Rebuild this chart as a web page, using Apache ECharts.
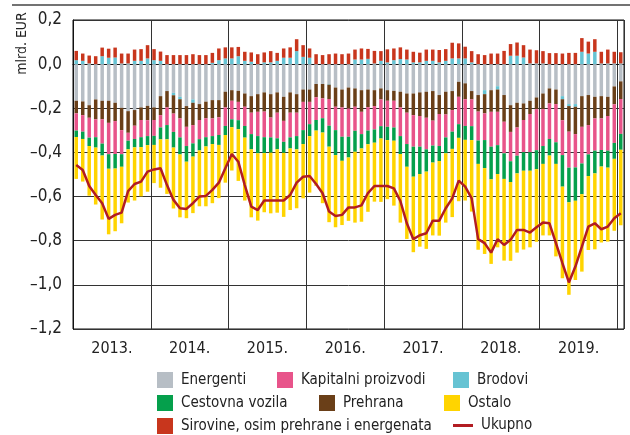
<!DOCTYPE html>
<html><head><meta charset="utf-8">
<script src="https://cdn.jsdelivr.net/npm/echarts@6/dist/echarts.min.js"></script>
<style>html,body{margin:0;padding:0;background:#fff}#c{width:630px;height:435px}</style>
</head><body><div id="c"></div>
<script>
const FONT = '"Liberation Sans Narrow","Arial Narrow","DejaVu Sans Condensed",sans-serif';

const years = ['2013','2014','2015','2016','2017','2018','2019','2020'];
const monthNums = ['01','02','03','04','05','06','07','08','09','10','11','12'];
const categories = [];
years.forEach(function(y){ monthNums.forEach(function(m){ categories.push(y + '-' + m); }); });
categories.length = 85; // Jan 2013 .. Jan 2020

const sirovine = [0.042,0.033,0.036,0.036,0.039,0.041,0.045,0.045,0.045,0.051,0.053,0.060,
0.050,0.042,0.041,0.041,0.041,0.041,0.045,0.041,0.041,0.045,0.053,0.050,
0.050,0.042,0.041,0.042,0.045,0.045,0.051,0.036,0.042,0.047,0.054,0.053,
0.042,0.045,0.041,0.045,0.048,0.045,0.048,0.045,0.050,0.045,0.057,0.044,
0.059,0.053,0.053,0.045,0.048,0.044,0.051,0.051,0.056,0.053,0.071,0.068,
0.053,0.051,0.045,0.041,0.048,0.048,0.060,0.053,0.060,0.056,0.063,0.060,
0.056,0.050,0.050,0.048,0.051,0.051,0.062,0.054,0.057,0.053,0.063,0.053,
0.051];
const brodovi = [0.018,0.015,0.003,0,0.036,0.029,0.030,0.003,0.003,0.015,0.015,0.026,
0.018,0.015,0,-0.011,-0.011,0,-0.015,0,0,0.006,0.018,0.026,
0.026,0.036,0.015,0.011,0,0.008,0.008,0.015,0.029,0.029,0.059,0.033,
0.029,0,0,-0.003,0,0,0,0.021,0.021,0.024,0.003,0.015,
0.008,0.018,0.023,0.021,0.008,0.008,0.015,0.015,0.008,0.015,0.026,0.026,
0.026,0.008,0,-0.018,0,-0.015,0,0.038,0.038,0.030,0.003,0.003,
0.003,0,0,-0.014,-0.009,-0.012,0.056,0.048,0.056,0.003,0.003,0.003,
0.003];
const energenti = [-0.166,-0.169,-0.186,-0.160,-0.166,-0.166,-0.175,-0.198,-0.213,-0.208,-0.196,-0.189,
-0.196,-0.145,-0.122,-0.130,-0.148,-0.190,-0.160,-0.181,-0.170,-0.163,-0.163,-0.125,
-0.118,-0.121,-0.133,-0.145,-0.136,-0.128,-0.136,-0.128,-0.148,-0.128,-0.136,-0.115,
-0.115,-0.090,-0.090,-0.090,-0.106,-0.115,-0.106,-0.110,-0.118,-0.115,-0.118,-0.110,
-0.118,-0.121,-0.125,-0.133,-0.133,-0.128,-0.125,-0.122,-0.140,-0.125,-0.122,-0.080,
-0.087,-0.122,-0.140,-0.118,-0.118,-0.100,-0.140,-0.186,-0.175,-0.178,-0.166,-0.151,
-0.133,-0.110,-0.115,-0.145,-0.181,-0.181,-0.145,-0.140,-0.148,-0.145,-0.148,-0.101,
-0.078];
const prehrana = [-0.057,-0.062,-0.057,-0.090,-0.084,-0.100,-0.083,-0.101,-0.098,-0.071,-0.057,-0.065,
-0.057,-0.086,-0.074,-0.083,-0.087,-0.094,-0.101,-0.072,-0.075,-0.083,-0.078,-0.071,
-0.048,-0.050,-0.060,-0.075,-0.080,-0.087,-0.106,-0.092,-0.109,-0.092,-0.084,-0.056,
-0.056,-0.060,-0.065,-0.065,-0.087,-0.081,-0.095,-0.083,-0.098,-0.080,-0.072,-0.050,
-0.048,-0.045,-0.071,-0.087,-0.098,-0.107,-0.118,-0.134,-0.086,-0.103,-0.086,-0.068,
-0.072,-0.038,-0.075,-0.087,-0.098,-0.101,-0.121,-0.121,-0.112,-0.075,-0.060,-0.053,
-0.071,-0.068,-0.066,-0.095,-0.116,-0.124,-0.139,-0.136,-0.098,-0.101,-0.087,-0.081,
-0.080];
const kapitalni = [-0.078,-0.075,-0.090,-0.081,-0.110,-0.142,-0.149,-0.109,-0.036,-0.060,-0.078,-0.072,
-0.072,-0.056,-0.080,-0.083,-0.086,-0.087,-0.083,-0.087,-0.086,-0.080,-0.080,-0.084,
-0.084,-0.083,-0.087,-0.097,-0.110,-0.116,-0.090,-0.116,-0.095,-0.112,-0.106,-0.128,
-0.101,-0.103,-0.090,-0.121,-0.106,-0.133,-0.128,-0.109,-0.101,-0.106,-0.106,-0.121,
-0.118,-0.121,-0.130,-0.142,-0.143,-0.139,-0.143,-0.113,-0.145,-0.104,-0.098,-0.124,
-0.121,-0.121,-0.131,-0.121,-0.158,-0.151,-0.143,-0.133,-0.128,-0.146,-0.173,-0.186,
-0.167,-0.161,-0.173,-0.158,-0.163,-0.151,-0.166,-0.133,-0.146,-0.143,-0.157,-0.175,
-0.158];
const cestovna = [-0.029,-0.033,-0.038,-0.047,-0.054,-0.066,-0.066,-0.057,-0.039,-0.038,-0.045,-0.041,
-0.041,-0.054,-0.065,-0.071,-0.077,-0.071,-0.060,-0.051,-0.042,-0.036,-0.045,-0.041,
-0.036,-0.041,-0.053,-0.069,-0.078,-0.072,-0.069,-0.050,-0.050,-0.050,-0.060,-0.063,
-0.054,-0.048,-0.065,-0.095,-0.113,-0.109,-0.094,-0.095,-0.065,-0.062,-0.060,-0.056,
-0.060,-0.060,-0.081,-0.103,-0.136,-0.124,-0.101,-0.077,-0.068,-0.072,-0.078,-0.062,
-0.063,-0.063,-0.106,-0.127,-0.148,-0.131,-0.116,-0.094,-0.080,-0.084,-0.084,-0.086,
-0.081,-0.075,-0.098,-0.143,-0.157,-0.151,-0.139,-0.098,-0.103,-0.075,-0.077,-0.072,
-0.072];
const ostalo = [-0.190,-0.193,-0.225,-0.258,-0.290,-0.297,-0.284,-0.256,-0.241,-0.241,-0.223,-0.211,
-0.173,-0.219,-0.247,-0.276,-0.285,-0.256,-0.256,-0.253,-0.271,-0.268,-0.241,-0.216,
-0.196,-0.234,-0.285,-0.308,-0.305,-0.268,-0.275,-0.287,-0.290,-0.279,-0.267,-0.246,
-0.256,-0.250,-0.320,-0.342,-0.327,-0.291,-0.287,-0.321,-0.332,-0.306,-0.267,-0.287,
-0.268,-0.294,-0.311,-0.327,-0.342,-0.329,-0.350,-0.330,-0.338,-0.314,-0.309,-0.287,
-0.275,-0.324,-0.389,-0.389,-0.383,-0.332,-0.370,-0.357,-0.359,-0.357,-0.347,-0.329,
-0.324,-0.362,-0.419,-0.415,-0.419,-0.359,-0.351,-0.335,-0.344,-0.344,-0.335,-0.326,
-0.342];
const ukupno = [-0.457,-0.480,-0.552,-0.593,-0.630,-0.701,-0.683,-0.673,-0.575,-0.543,-0.532,-0.487,
-0.477,-0.472,-0.548,-0.615,-0.653,-0.656,-0.630,-0.600,-0.597,-0.570,-0.537,-0.472,
-0.407,-0.442,-0.548,-0.646,-0.661,-0.618,-0.618,-0.618,-0.618,-0.593,-0.537,-0.510,
-0.507,-0.543,-0.585,-0.668,-0.688,-0.683,-0.649,-0.649,-0.640,-0.584,-0.552,-0.552,
-0.552,-0.563,-0.620,-0.721,-0.793,-0.775,-0.766,-0.709,-0.709,-0.653,-0.608,-0.528,
-0.555,-0.608,-0.793,-0.811,-0.854,-0.793,-0.819,-0.796,-0.751,-0.751,-0.763,-0.739,
-0.718,-0.721,-0.811,-0.902,-0.989,-0.917,-0.827,-0.736,-0.721,-0.748,-0.736,-0.698,
-0.676];

const COLORS = {
  energenti:'#b7bec5', kapitalni:'#e8548a', brodovi:'#66c3d3', cestovna:'#05a04c',
  prehrana:'#6a3f18', ostalo:'#ffd400', sirovine:'#c8361d', ukupno:'#b21c22'
};

function bar(name, data, color){
  return {name:name, type:'bar', stack:'total', data:data, barWidth:'54%',
    itemStyle:{color:color}, emphasis:{disabled:true}};
}

const chart = echarts.init(document.getElementById('c'), null, {renderer:'canvas'});
const legendBase = {padding:0, itemWidth:16, itemHeight:16, icon:'rect', selectedMode:false,
  textStyle:{fontFamily:FONT, fontSize:15, color:'#222', padding:[0,0,0,3]}};
function lg(name, left, top, extra){
  return Object.assign({}, legendBase, {data:[name], left:left, top:top}, extra||{});
}

chart.setOption({
  animation:false,
  backgroundColor:'#fff',
  grid:{left:73, right:6, top:20, bottom:106, show:true, borderColor:'#111', borderWidth:1,
    containLabel:false, outerBoundsMode:'none'},
  xAxis:{type:'category', data:categories,
    axisLine:{lineStyle:{color:'#111'}}, axisTick:{show:false},
    splitLine:{show:true, interval:function(i){return i % 12 === 0;}, lineStyle:{color:'#333', width:1}},
    axisLabel:{interval:function(i){return i % 12 === 6;}, formatter:function(v){return v.slice(0,4)+'.';},
      fontFamily:FONT, fontSize:16, color:'#222', margin:12, padding:[0,6.5,0,0]}},
  yAxis:{type:'value', min:-1.2, max:0.2, interval:0.2,
    name:'mlrd. EUR', nameLocation:'middle', nameRotate:90, nameGap:44, nameMoveOverlap:false,
    nameTextStyle:{fontFamily:FONT, fontSize:14, color:'#222', padding:[0,0,0,262]},
    axisLine:{show:true, lineStyle:{color:'#111'}}, axisTick:{show:false},
    splitLine:{show:true, lineStyle:{color:'#333', width:1}},
    axisLabel:{fontFamily:FONT, fontSize:17, color:'#222', margin:11,
      formatter:function(v){ return (Math.abs(v) < 1e-9 ? 0 : v).toFixed(1).replace('.', ',').replace('-', '\u2013'); }}},
  legend:[
    lg('Energenti',157,372), lg('Cestovna vozila',157,395), lg('Sirovine, osim prehrane i energenata',157,418),
    lg('Kapitalni proizvodi',277,372), lg('Prehrana',319,395),
    lg('Brodovi',453,372), lg('Ostalo',444,395),
    lg('Ukupno',453,418,{itemWidth:20, itemHeight:3})
  ],
  graphic:[
    {type:'line', shape:{x1:12,y1:5,x2:630,y2:5}, style:{stroke:'#444', lineWidth:1.5}}
  ],
  series:[
    bar('Energenti', energenti, COLORS.energenti),
    bar('Brodovi', brodovi, COLORS.brodovi),
    bar('Prehrana', prehrana, COLORS.prehrana),
    bar('Kapitalni proizvodi', kapitalni, COLORS.kapitalni),
    bar('Cestovna vozila', cestovna, COLORS.cestovna),
    bar('Ostalo', ostalo, COLORS.ostalo),
    bar('Sirovine, osim prehrane i energenata', sirovine, COLORS.sirovine),
    {name:'Ukupno', type:'line', data:ukupno, symbol:'none', z:10,
      lineStyle:{color:COLORS.ukupno, width:2.5}, itemStyle:{color:COLORS.ukupno}, emphasis:{disabled:true}}
  ]
});
</script></body></html>
